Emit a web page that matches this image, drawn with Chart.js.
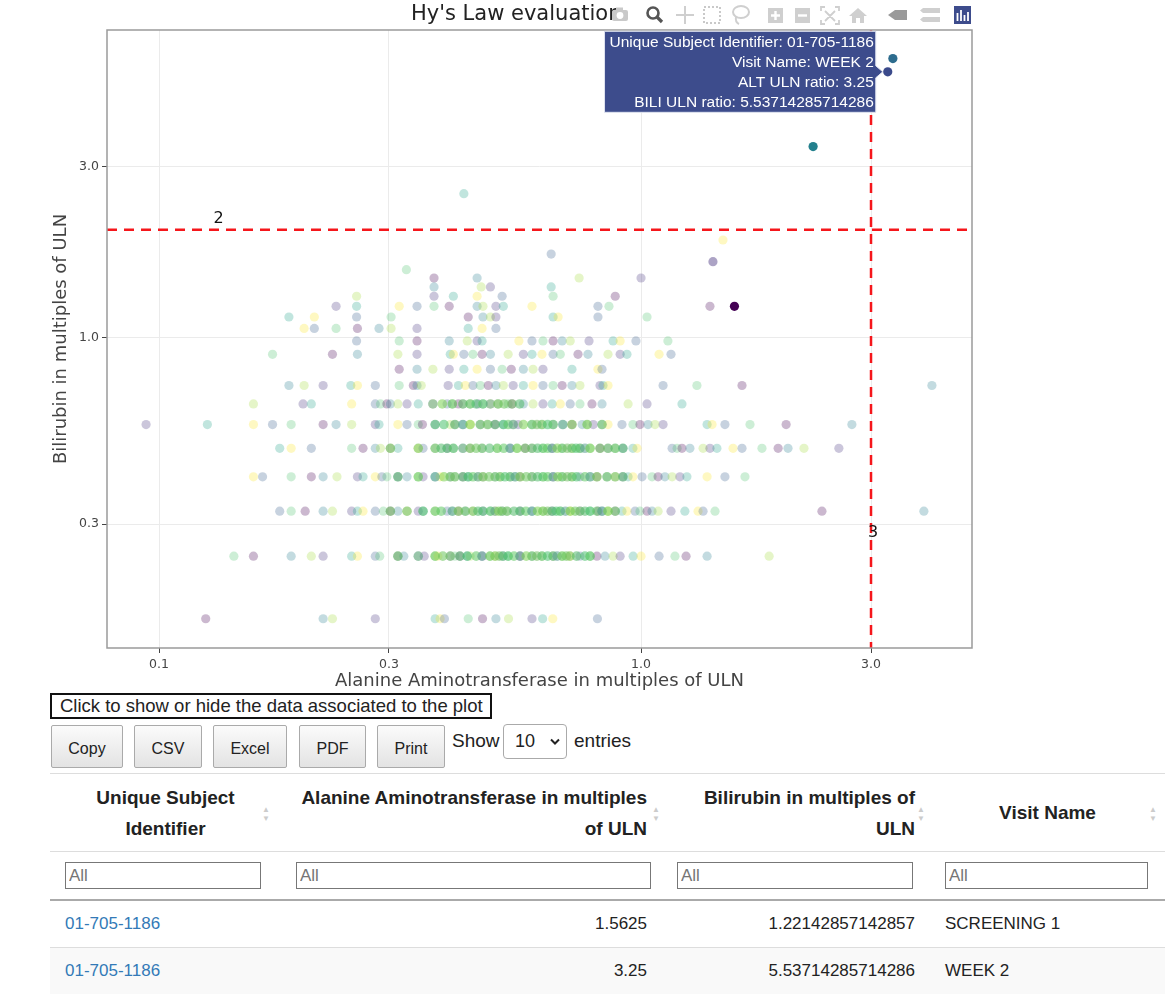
<!DOCTYPE html>
<html>
<head>
<meta charset="utf-8">
<title>Hy's Law evaluation</title>
<script src="https://cdn.jsdelivr.net/npm/chart.js@4.4.1/dist/chart.umd.min.js"></script>
<style>
  body { margin: 0; background: #fff; font-family: "Liberation Sans", Arial, sans-serif; color: #222; }
  #page { position: relative; width: 1170px; height: 999px; overflow: hidden; }
  #plot { position: absolute; left: 0; top: 0; }
  #plotTitle { position: absolute; left: 411px; top: 1px; font: 21px "DejaVu Sans", sans-serif; color: #222; white-space: nowrap; }
  #modebar { position: absolute; left: 605px; top: 1px; }
  #toggle { position: absolute; left: 50px; top: 693px; width: 442px; height: 26px; box-sizing: border-box;
            border: 2px solid #111; font-size: 18.5px; line-height: 22px; padding-left: 8px; white-space: nowrap; }
  .btn { position: absolute; top: 725px; height: 43px; box-sizing: border-box; border: 1px solid #aaa; border-radius: 2px;
         background: linear-gradient(#fbfbfb, #e3e3e3); font-size: 16px; text-align: center; line-height: 46px; color: #222; }
  #showLbl { position: absolute; left: 452px; top: 730px; font-size: 19px; }
  #lenSel { position: absolute; left: 503px; top: 724px; width: 64px; height: 35px; box-sizing: border-box;
            border: 1px solid #aaa; border-radius: 4px; font-size: 18px; line-height: 33px; padding-left: 11px; }
  #lenSel svg { position: absolute; right: 6px; top: 13px; }
  #entriesLbl { position: absolute; left: 574px; top: 730px; font-size: 19px; }
  #dt { position: absolute; left: 50px; top: 773px; width: 1115px; border-collapse: collapse; table-layout: fixed; font-size: 17px; }
  #dt tr.head th { height: 77px; border-top: 1px solid #ddd; border-bottom: 1px solid #ddd; font-weight: bold; font-size: 19px;
                   line-height: 31px; position: relative; vertical-align: middle; padding: 0 15px; white-space: nowrap; }
  #dt th .sort { position: absolute; top: 31px; width: 10px; font-size: 8px; line-height: 9px; color: #ccc; text-align: center; font-weight: normal; }
  #dt tr.filter td { height: 47px; border-bottom: 2px solid #aaa; padding: 0 15px; }
  #dt input { height: 27px; box-sizing: border-box; border: 1px solid #777; font-size: 17px; padding: 0 3px;
              font-family: "Liberation Sans", Arial, sans-serif; color: #444; }
  #dt tbody td { height: 46px; border-top: 1px solid #ddd; padding: 0 15px; white-space: nowrap; }
  #dt tbody tr:nth-child(even) td { background: #f9f9f9; }
  #dt a { color: #337ab7; text-decoration: none; }
</style>
</head>
<body>
<div id="page">
  <canvas id="plot" width="1000" height="692"></canvas>
  <div id="plotTitle">Hy's Law evaluation</div>
  <svg id="modebar" width="370" height="28" viewBox="0 0 370 28">
    <g fill="#c9c9c9">
      <rect x="7" y="9" width="16" height="11" rx="2"/><rect x="11" y="6.5" width="7" height="3"/>
      <circle cx="15" cy="14.5" r="3.4" fill="#fff"/>
    </g>
    <g stroke="#555" fill="none"><circle cx="48" cy="12" r="5.5" stroke-width="2.6"/><line x1="52" y1="16" x2="57" y2="21" stroke-width="3.2"/></g>
    <g stroke="#cfcfcf" stroke-width="2" fill="none"><line x1="80" y1="5" x2="80" y2="23"/><line x1="71" y1="14" x2="89" y2="14"/></g>
    <rect x="99" y="6" width="16" height="16" fill="none" stroke="#c9c9c9" stroke-width="2" stroke-dasharray="2 2"/>
    <g stroke="#cfcfcf" stroke-width="2" fill="none"><ellipse cx="136" cy="11" rx="8" ry="6"/><path d="M131 16 q-1 5 3 7"/></g>
    <rect x="163" y="7" width="15" height="15" fill="#cfcfcf"/><path d="M170.5 10v9M166 14.5h9" stroke="#fff" stroke-width="2.4"/>
    <rect x="190" y="7" width="15" height="15" fill="#cfcfcf"/><path d="M193 14.5h9" stroke="#fff" stroke-width="2.4"/>
    <g stroke="#cfcfcf" stroke-width="1.8" fill="none">
      <path d="M216 10v-4h4M230 6h4v4M234 19v4h-4M220 23h-4v-4M220 10l10 10M230 10l-10 10"/>
    </g>
    <path d="M244 15l9-8 9 8h-3v7h-4v-5h-4v5h-4v-7z" fill="#cfcfcf"/>
    <path d="M283 14l7-5h12v10h-12z" fill="#9a9a9a"/>
    <path d="M318 7h17v5h-17l-3-2.5zM318 16h17v5h-17l-3-2.5z" fill="#cfcfcf"/>
    <rect x="349" y="5" width="17" height="18" fill="#3d4c8c"/>
    <path d="M352.5 20v-8M356 20v-11M359.5 20v-6M363 20v-9" stroke="#fff" stroke-width="1.8"/>
  </svg>
  <div id="toggle">Click to show or hide the data associated to the plot</div>
  <div id="buttons"></div>
  <div id="showLbl">Show</div>
  <div id="lenSel">10<svg width="10" height="8" viewBox="0 0 10 8"><path d="M1 1.5l4 4 4-4" stroke="#222" stroke-width="2" fill="none"/></svg></div>
  <div id="entriesLbl">entries</div>
  <table id="dt">
    <colgroup><col style="width:231px"><col style="width:381px"><col style="width:268px"><col style="width:235px"></colgroup>
    <thead>
      <tr class="head">
        <th style="text-align:center">Unique Subject<br>Identifier<span class="sort" style="right:10px">▲<br>▼</span></th>
        <th style="text-align:right">Alanine Aminotransferase in multiples<br>of ULN<span class="sort" style="right:1px">▲<br>▼</span></th>
        <th style="text-align:right">Bilirubin in multiples of<br>ULN<span class="sort" style="right:4px">▲<br>▼</span></th>
        <th style="text-align:center">Visit Name<span class="sort" style="right:7px">▲<br>▼</span></th>
      </tr>
      <tr class="filter">
        <td><input style="width:196px" placeholder="All"></td>
        <td><input style="width:355px" placeholder="All"></td>
        <td><input style="width:236px" placeholder="All"></td>
        <td><input style="width:203px" placeholder="All"></td>
      </tr>
    </thead>
    <tbody id="dtBody"></tbody>
  </table>
</div>
<script>
// bilirubin level of each row of observations (multiples of ULN)
const biliRowLevels = [0.163, 0.244, 0.326, 0.407, 0.489, 0.570, 0.651, 0.733, 0.814, 0.896, 0.977,
    1.059, 1.140, 1.221, 1.303, 1.384, 1.466, 1.547, 1.710, 1.873, 2.524];

// ALT values (multiples of ULN) observed at each bilirubin level
const altRow02 = [0.125, 0.219, 0.229, 0.281, 0.374, 0.383, 0.391, 0.438, 0.469, 0.500, 0.531, 0.594, 0.625, 0.656, 0.812];
const altRow03 = [0.143, 0.157, 0.188, 0.207, 0.219, 0.251, 0.258, 0.281, 0.287, 0.313, 0.322, 0.345, 0.355, 0.374, 0.379,
    0.402, 0.411, 0.421, 0.436, 0.442, 0.468, 0.486, 0.498, 0.517, 0.530, 0.561, 0.594, 0.623, 0.657, 0.686, 0.712, 0.747,
    0.784, 0.810, 0.842, 0.875, 0.905, 0.963, 1.000, 1.090, 1.176, 1.240, 1.371, 1.844];
const altRow04 = [0.178, 0.188, 0.201, 0.219, 0.229, 0.251, 0.258, 0.265, 0.281, 0.292, 0.302, 0.313, 0.327, 0.345, 0.353,
    0.374, 0.396, 0.406, 0.418, 0.432, 0.448, 0.470, 0.487, 0.498, 0.515, 0.527, 0.561, 0.594, 0.626, 0.654, 0.680, 0.713,
    0.747, 0.784, 0.814, 0.830, 0.854, 0.884, 0.913, 0.935, 0.972, 0.995, 1.029, 1.054, 1.085, 1.154, 1.233, 1.313, 1.345,
    1.424, 2.373, 3.862];
const altRow05 = [0.157, 0.164, 0.188, 0.207, 0.219, 0.234, 0.258, 0.265, 0.281, 0.290, 0.297, 0.313, 0.327, 0.345, 0.353,
    0.374, 0.383, 0.402, 0.411, 0.427, 0.438, 0.459, 0.470, 0.498, 0.510, 0.535, 0.548, 0.561, 0.594, 0.626, 0.657, 0.686,
    0.719, 0.747, 0.784, 0.810, 0.850, 0.884, 0.917, 0.940, 0.962, 1.005, 1.054, 1.085, 1.121, 1.160, 1.204, 1.245, 1.371,
    1.493, 1.643];
const altRow06 = [0.178, 0.188, 0.207, 0.251, 0.265, 0.281, 0.288, 0.302, 0.313, 0.345, 0.353, 0.374, 0.396, 0.408, 0.427,
    0.442, 0.468, 0.503, 0.535, 0.553, 0.575, 0.594, 0.626, 0.654, 0.686, 0.719, 0.747, 0.784, 0.822, 0.854, 0.884, 0.917,
    0.962, 0.981, 1.160, 1.188, 1.216, 1.263, 1.345, 1.390, 1.437, 1.552, 1.620, 1.782, 1.925, 2.018, 2.178, 2.573];
const altRow07 = [0.094, 0.126, 0.157, 0.172, 0.188, 0.219, 0.233, 0.251, 0.281, 0.286, 0.313, 0.327, 0.345, 0.352, 0.374,
    0.402, 0.411, 0.427, 0.442, 0.464, 0.482, 0.498, 0.518, 0.543, 0.556, 0.594, 0.623, 0.657, 0.689, 0.719, 0.755, 0.773,
    0.796, 0.830, 0.854, 0.913, 0.962, 0.995, 1.034, 1.069, 1.111, 1.371, 1.404, 1.493, 1.683, 2.000, 2.738];
const altRow08 = [0.157, 0.199, 0.207, 0.251, 0.281, 0.288, 0.297, 0.302, 0.313, 0.327, 0.345, 0.370, 0.396, 0.406, 0.418,
    0.427, 0.442, 0.459, 0.470, 0.487, 0.505, 0.530, 0.540, 0.570, 0.597, 0.626, 0.654, 0.680, 0.713, 0.747, 0.791, 0.830,
    0.940, 1.029, 1.216];
const altRow09 = [0.186, 0.200, 0.219, 0.250, 0.258, 0.281, 0.315, 0.337, 0.343, 0.350, 0.398, 0.418, 0.432, 0.448, 0.464,
    0.482, 0.500, 0.518, 0.543, 0.570, 0.597, 0.626, 0.657, 0.686, 0.719, 0.747, 0.822, 0.834, 0.854, 1.111, 1.306, 1.620, 4.013];
const altRow10 = [0.315, 0.343, 0.370, 0.400, 0.429, 0.457, 0.487, 0.515, 0.538, 0.570, 0.597, 0.626, 0.719, 0.814, 0.830];
const altRow11 = [0.172, 0.229, 0.258, 0.313, 0.343, 0.402, 0.408, 0.429, 0.448, 0.468, 0.487, 0.530, 0.570, 0.594, 0.623,
    0.657, 0.680, 0.740, 0.776, 0.854, 0.905, 0.935, 1.090, 1.154];
const altRow12 = [0.257, 0.315, 0.343, 0.400, 0.436, 0.457, 0.468, 0.558, 0.594, 0.626, 0.657, 0.686, 0.713, 0.780, 0.875,
    0.905, 0.976, 1.137];
const altRow13 = [0.200, 0.210, 0.233, 0.258, 0.286, 0.303, 0.343, 0.438, 0.468, 0.500];
const altRow14 = [0.186, 0.210, 0.257, 0.303, 0.438, 0.470, 0.487, 0.500, 0.657, 0.673, 0.814, 1.029];
const altRow15 = [0.233, 0.257, 0.315, 0.343, 0.372, 0.400, 0.457, 0.470, 0.500, 0.518, 0.594, 0.814, 0.858, 1.390];
const altRow16 = [0.257, 0.372, 0.408, 0.457, 0.515, 0.657, 0.884];
const altRow17 = [0.372, 0.466, 0.487, 0.651];
const altRow18 = [0.372, 0.457, 0.744, 1.000];
const altRow19 = [0.326];
const altRow21 = [0.651];
const altRow23 = [1.479];
const altRow31 = [0.429];

// repeated observations in the crowded rows
const biliRepeatLevels = [0.244, 0.326, 0.407, 0.489, 0.570, 0.651];
const altRepeat03 = [0.313, 0.345, 0.374, 0.388, 0.402, 0.421, 0.436, 0.455, 0.468, 0.486, 0.498, 0.508, 0.517, 0.530,
    0.545, 0.561, 0.578, 0.594, 0.608, 0.623, 0.640, 0.657, 0.670, 0.686, 0.700, 0.712, 0.735, 0.765, 0.784];
const altRepeat04 = [0.302, 0.327, 0.353, 0.374, 0.385, 0.406, 0.418, 0.432, 0.448, 0.459, 0.470, 0.487, 0.498, 0.507,
    0.515, 0.527, 0.545, 0.561, 0.577, 0.594, 0.610, 0.626, 0.640, 0.654, 0.667, 0.680, 0.697, 0.713, 0.730, 0.747,
    0.765, 0.784, 0.810, 0.830, 0.854, 0.884];
const altRepeat05 = [0.313, 0.345, 0.374, 0.390, 0.402, 0.411, 0.427, 0.438, 0.448, 0.459, 0.470, 0.484, 0.498, 0.510,
    0.522, 0.535, 0.548, 0.561, 0.578, 0.594, 0.610, 0.626, 0.640, 0.657, 0.672, 0.686, 0.703, 0.719, 0.735, 0.765,
    0.784, 0.810, 0.850, 0.884, 0.917];
const altRepeat06 = [0.302, 0.345, 0.374, 0.385, 0.396, 0.408, 0.427, 0.442, 0.455, 0.468, 0.485, 0.503, 0.519, 0.535,
    0.553, 0.575, 0.594, 0.610, 0.626, 0.640, 0.654, 0.670, 0.686, 0.703, 0.719, 0.733, 0.747, 0.765, 0.784, 0.822,
    0.854, 0.884, 0.917];
const altRepeat07 = [0.374, 0.390, 0.411, 0.427, 0.442, 0.464, 0.480, 0.498, 0.518, 0.530, 0.543, 0.570, 0.594, 0.608,
    0.623, 0.640, 0.657, 0.688, 0.719, 0.773, 0.830];
const altRepeat08 = [0.370, 0.387, 0.406, 0.427, 0.442, 0.455, 0.470, 0.487, 0.505, 0.520, 0.540, 0.560];

// stand-out observations
const standoutAlt = [3.33, 2.275, 1.41];
const standoutBili = [6.03, 3.42, 1.629];

// selected subject (table rows)
const tableSubjects = ["01-705-1186", "01-705-1186"];
const tableAlt = [1.5625, 3.25];
const tableBili = [1.22142857142857, 5.53714285714286];
const tableVisits = ["SCREENING 1", "WEEK 2"];
const hoverRow = 1;

// Hy's law limits and axis ticks
const altLimit = 3;
const biliLimit = 2;
const limitLabels = ["2", "3"];
const limitLabelAlt = [0.133, 3.03];
const limitLabelBili = [2.15, 0.283];
const xTickValues = [0.1, 0.3, 1.0, 3.0];
const yTickValues = [0.3, 1.0, 3.0];
const buttonLabels = ["Copy", "CSV", "Excel", "PDF", "Print"];

const palette = ["#440154", "#46327e", "#365c8d", "#277f8e", "#1fa187", "#4ac16d", "#a0da39", "#fde725"];
const greens = ["#5ec962", "#6cc45c", "#4ac16d", "#7ad151", "#52b96a", "#5a9f8f", "#72bd62"];

function rgba(hex, a) {
    const n = parseInt(hex.slice(1), 16);
    return `rgba(${n >> 16},${(n >> 8) & 255},${n & 255},${a})`;
}

const altRows = [altRow02, altRow03, altRow04, altRow05, altRow06, altRow07, altRow08, altRow09, altRow10, altRow11,
    altRow12, altRow13, altRow14, altRow15, altRow16, altRow17, altRow18, altRow19, altRow21, altRow23, altRow31];
const altRepeats = [altRepeat03, altRepeat04, altRepeat05, altRepeat06, altRepeat07, altRepeat08];

const basePoints = [], baseColors = [];
altRows.forEach((row, r) => {
    row.forEach((alt, i) => {
        basePoints.push({ x: alt, y: biliRowLevels[r] });
        baseColors.push(rgba(palette[(i * 3 + r * 5) % palette.length], 0.28));
    });
});

const repeatPoints = [], repeatColors = [];
altRepeats.forEach((row, r) => {
    row.forEach((alt, i) => {
        repeatPoints.push({ x: alt, y: biliRepeatLevels[r] });
        repeatColors.push(rgba(greens[(i * 5 + r) % greens.length], 0.55));
    });
});

const standoutPoints = standoutAlt.map((a, i) => ({ x: a, y: standoutBili[i] }));
const subjectPoints = tableAlt.map((a, i) => ({ x: a, y: tableBili[i] }));

// red dashed limits, their labels, plot frame and the hover label
const overlayPlugin = {
    id: "overlay",
    afterDatasetsDraw(chart) {
        const { ctx, chartArea: a, scales: { x, y } } = chart;
        ctx.save();
        ctx.strokeStyle = "#f5161b";
        ctx.lineWidth = 2.5;
        ctx.setLineDash([10, 7]);
        const hy = y.getPixelForValue(biliLimit);
        const vx = x.getPixelForValue(altLimit);
        ctx.beginPath();
        ctx.moveTo(a.left, hy); ctx.lineTo(a.right, hy);
        ctx.moveTo(vx, a.top); ctx.lineTo(vx, a.bottom);
        ctx.stroke();
        ctx.setLineDash([]);
        ctx.fillStyle = "#111";
        ctx.font = "16px 'DejaVu Sans', sans-serif";
        ctx.textAlign = "center";
        ctx.textBaseline = "middle";
        limitLabels.forEach((t, i) => {
            ctx.fillText(t, x.getPixelForValue(limitLabelAlt[i]), y.getPixelForValue(limitLabelBili[i]));
        });
        ctx.restore();
    },
    afterDraw(chart) {
        const { ctx, chartArea: a, scales: { x, y } } = chart;
        ctx.save();
        ctx.strokeStyle = "#9a9a9a";
        ctx.lineWidth = 1.5;
        ctx.strokeRect(a.left, a.top, a.right - a.left, a.bottom - a.top);

        const px = x.getPixelForValue(tableAlt[hoverRow]);
        const py = y.getPixelForValue(tableBili[hoverRow]);
        const lines = [
            "Unique Subject Identifier: " + tableSubjects[hoverRow],
            "Visit Name: " + tableVisits[hoverRow],
            "ALT ULN ratio: " + tableAlt[hoverRow],
            "BILI ULN ratio: " + tableBili[hoverRow],
        ];
        ctx.font = "15.5px 'Liberation Sans', Arial, sans-serif";
        const w = Math.max(...lines.map((l) => ctx.measureText(l).width)) + 7;
        const h = 81;
        const right = px - 12, left = right - w, top = py - h / 2;
        ctx.beginPath();
        ctx.moveTo(left, top); ctx.lineTo(right, top); ctx.lineTo(right, py - 6);
        ctx.lineTo(px - 5, py); ctx.lineTo(right, py + 6); ctx.lineTo(right, top + h);
        ctx.lineTo(left, top + h); ctx.closePath();
        ctx.fillStyle = "#3d4c8c";
        ctx.fill();
        ctx.strokeStyle = "#dfe3f0";
        ctx.lineWidth = 1;
        ctx.stroke();
        ctx.fillStyle = "#fff";
        ctx.textAlign = "right";
        ctx.textBaseline = "middle";
        lines.forEach((l, i) => ctx.fillText(l, right - 2, top + 11 + i * 20));
        ctx.restore();
    },
};

const axisFont = { family: "'DejaVu Sans', sans-serif", size: 12.5 };
const titleFont = { family: "'DejaVu Sans', sans-serif", size: 18 };

new Chart(document.getElementById("plot"), {
    type: "scatter",
    data: {
        datasets: [
            { label: "subject", data: subjectPoints, backgroundColor: ["#440154", "#3b4a8b"], pointRadius: 4.6, borderWidth: 0, order: 0 },
            { label: "standout", data: standoutPoints, backgroundColor: ["#2d6c8e", "#23808d", rgba("#46327e", 0.45)], pointRadius: 4.6, borderWidth: 0, order: 1 },
            { label: "repeat", data: repeatPoints, backgroundColor: repeatColors, pointRadius: 4.8, borderWidth: 0, order: 2 },
            { label: "observations", data: basePoints, backgroundColor: baseColors, pointRadius: 4.6, borderWidth: 0, order: 3 },
        ],
    },
    options: {
        responsive: false,
        animation: false,
        events: [],
        layout: { padding: { left: 51, right: 28, top: 30, bottom: 0 } },
        plugins: { legend: { display: false }, tooltip: { enabled: false } },
        scales: {
            x: {
                type: "logarithmic",
                min: 0.078,
                max: 4.86,
                afterBuildTicks: (s) => { s.ticks = xTickValues.map((v) => ({ value: v })); },
                afterFit: (s) => { s.height = 44; },
                ticks: { callback: (v) => Number(v).toFixed(1), color: "#444", font: axisFont, autoSkip: false, maxRotation: 0, padding: 4 },
                grid: { color: "#ebebeb", tickColor: "#444", tickLength: 5 },
                border: { display: false },
                title: { display: true, text: "Alanine Aminotransferase in multiples of ULN", color: "#444", font: titleFont, padding: 0 },
            },
            y: {
                type: "logarithmic",
                min: 0.135,
                max: 7.25,
                afterBuildTicks: (s) => { s.ticks = yTickValues.map((v) => ({ value: v })); },
                afterFit: (s) => { s.width = 56; },
                ticks: { callback: (v) => Number(v).toFixed(1), color: "#444", font: axisFont, autoSkip: false, padding: 3 },
                grid: { color: "#ebebeb", tickColor: "#444", tickLength: 5 },
                border: { display: false },
                title: { display: true, text: "Bilirubin in multiples of ULN", color: "#444", font: titleFont, padding: 0 },
            },
        },
    },
    plugins: [overlayPlugin],
});

// DataTables-like controls and rows
const btnLeft = [51, 134, 213, 299, 377];
const btnWidth = [72, 68, 74, 67, 68];
const btnBox = document.getElementById("buttons");
buttonLabels.forEach((label, i) => {
    const b = document.createElement("div");
    b.className = "btn";
    b.style.left = btnLeft[i] + "px";
    b.style.width = btnWidth[i] + "px";
    b.textContent = label;
    btnBox.appendChild(b);
});

const body = document.getElementById("dtBody");
tableSubjects.forEach((id, i) => {
    const tr = document.createElement("tr");
    tr.innerHTML =
        `<td><a href="#">${id}</a></td>` +
        `<td style="text-align:right">${tableAlt[i]}</td>` +
        `<td style="text-align:right">${tableBili[i]}</td>` +
        `<td>${tableVisits[i]}</td>`;
    body.appendChild(tr);
});
</script>
</body>
</html>
